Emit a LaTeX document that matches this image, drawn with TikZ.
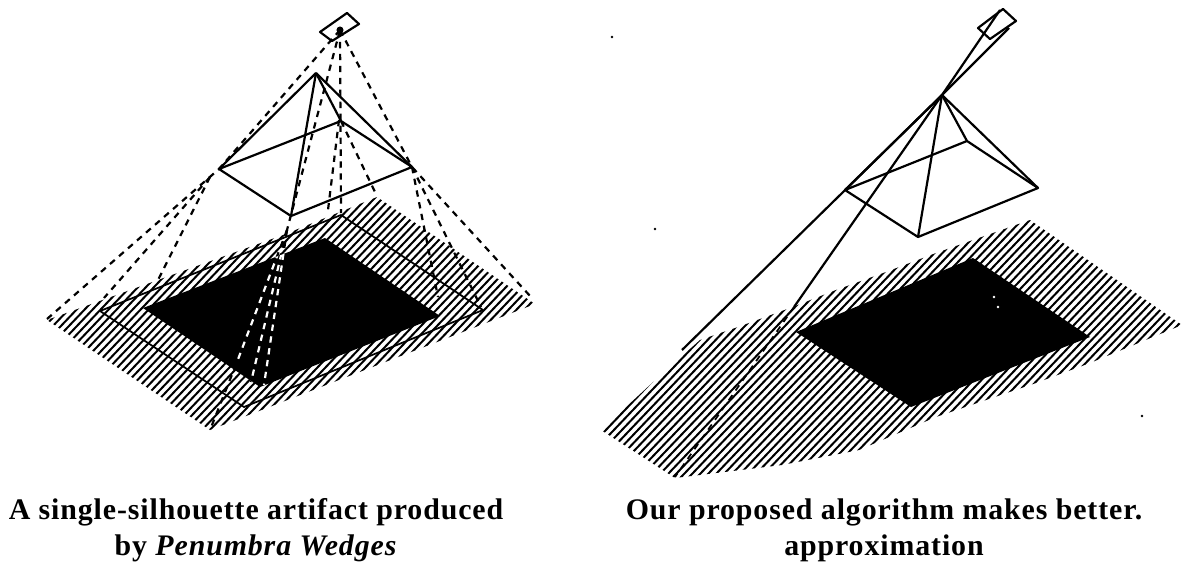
\documentclass[tikz,border=0pt]{standalone}
\usepackage{fontspec}
\setmainfont{Liberation Serif}[LetterSpace=3]
\tikzset{
	hatchline/.style={line width=1.15pt}
}
\tikzset{
	wireline/.style={line width=1.25pt, line join=round},
	rayline/.style={line width=1.25pt, dash pattern=on 3.6pt off 3.2pt},
	whiteray/.style={rayline, white},
	speck/.style={shape=circle, fill=black, minimum size=1.5pt, inner sep=0pt},
	whitespeck/.style={speck, fill=white},
	captiontext/.style={font=\fontsize{17}{20.5}\selectfont\bfseries, align=center, inner sep=0pt}
}
\begin{document}
\begin{tikzpicture}[x=0.02cm, y=-0.02cm]
  \useasboundingbox (0,0) rectangle (1190,565);

  % left picture
  \coordinate (lightA) at (340,30);
  \coordinate (topA) at (316,73);
  \coordinate (leftA) at (219,169);
  \coordinate (backA) at (341,121);
  \coordinate (rightA) at (412,167);
  \coordinate (frontA) at (291,216);
  \coordinate (footA) at (287,230);

  \begin{scope}
    \clip (47,320) -- (158,280) -- (283,235) -- (330,216) -- (377,197) -- (535,304) -- (210,430) -- cycle;
    \foreach \t in {-400,-392,...,600} {
        \draw[hatchline] (\t,600) -- ++(400,-420);
      }
  \end{scope}
  \fill[black] (143,308) -- (325,238) -- (440,316) -- (260,387) -- cycle;

  \draw[wireline, line width=1pt] (100,311) -- (341,215) -- (483,310) -- (244,407) -- cycle;

  \draw[wireline] (320,32) -- (347,13) -- (359,24) -- (332,41) -- cycle;
  \node[speck, minimum size=4pt] (lampA) at (lightA) {};

  \draw[rayline] (lightA) -- (leftA) -- (47,319);
  \draw[rayline] (210,177) -- (104,298);
  \draw[rayline] (210,177) -- (158,280);
  \draw[rayline] (lightA) -- (rightA) -- (531,297);
  \draw[rayline] (rightA) -- (481,307);
  \draw[rayline] (rightA) -- (438,297);
  \draw[rayline] (lightA) -- (footA);
  \draw[rayline] (lightA) -- (341,213);
  \draw[rayline] (339,120) -- (328,210);
  \draw[rayline] (backA) -- (375,192);
  \draw[rayline] (footA) -- (237,362) -- (210,430);
  \draw[rayline] (footA) -- (251,382);
  \draw[rayline] (footA) -- (264,385);
  \begin{scope}
    \clip (143,308) -- (325,238) -- (440,316) -- (260,387) -- cycle;
    \draw[whiteray] (footA) -- (237,362);
    \draw[whiteray] (footA) -- (251,382);
    \draw[whiteray] (footA) -- (264,385);
  \end{scope}

  \draw[wireline] (leftA) -- (backA) -- (rightA) -- (frontA) -- cycle;
  \draw[wireline] (topA) -- (leftA);
  \draw[wireline] (topA) -- (rightA);
  \draw[wireline] (topA) -- (backA);
  \draw[wireline] (topA) -- (frontA);

  % right picture
  \coordinate (topB) at (942,95);
  \coordinate (leftB) at (845,190);
  \coordinate (backB) at (967,141);
  \coordinate (rightB) at (1038,188);
  \coordinate (frontB) at (918,237);

  \begin{scope}
    \clip (601,430) -- (663,373) -- (700,340) -- (738,327) -- (790,308) -- (836,290) -- (886,272) -- (936,253)
      -- (1030,220) -- (1182,325) -- (1090,363) -- (1036,383) -- (936,417) -- (859,450) -- (782,465) -- (675,478) -- cycle;
    \foreach \t in {100,108,...,1200} {
        \draw[hatchline] (\t,600) -- ++(400,-420);
      }
  \end{scope}
  \fill[black] (796,332) -- (973,258) -- (1090,337) -- (911,407) -- cycle;

  \draw[wireline] (978,28) -- (1003,9) -- (1016,21) -- (990,39) -- cycle;

  \draw[wireline] (1009,28) -- (topB) -- (682,350);
  \draw[wireline] (1000,10) -- (topB) -- (794,307);
  \draw[rayline, line width=1pt] (794,307) -- (675,477);

  \draw[wireline] (leftB) -- (backB) -- (rightB) -- (frontB) -- cycle;
  \draw[wireline] (topB) -- (leftB);
  \draw[wireline] (topB) -- (rightB);
  \draw[wireline] (topB) -- (backB);
  \draw[wireline] (topB) -- (frontB);

  \node[speck] (speckA) at (612,37) {};
  \node[speck] (speckB) at (655,229) {};
  \node[speck] (speckC) at (1142,416) {};
  \node[whitespeck] (speckD) at (994,297) {};
  \node[whitespeck] (speckE) at (998,307) {};

  \node[captiontext] (captionA) at (256,530) {A single-silhouette artifact produced\\by \textit{Penumbra Wedges}};
  \node[captiontext] (captionB) at (884,530) {Our proposed algorithm makes better.\\approximation};
\end{tikzpicture}
\end{document}
